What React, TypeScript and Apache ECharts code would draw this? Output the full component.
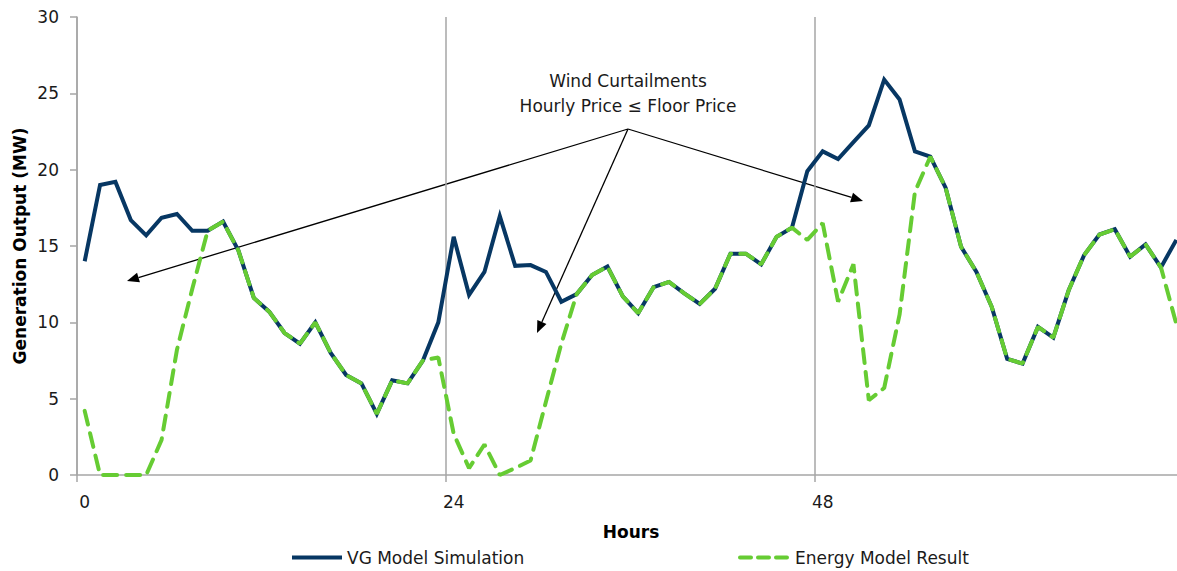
import React, { useEffect, useRef } from "react";
import * as echarts from "echarts";

const hours: string[] = Array.from({ length: 72 }, (_, i) => String(i));

const vgSimulation: number[] = [
  14.0, 19.0, 19.2, 16.7, 15.7, 16.85, 17.1, 16.0, 16.0, 16.6,
  14.7, 11.6, 10.7, 9.3, 8.6, 10.0, 8.0, 6.55, 6.0, 4.0,
  6.2, 6.0, 7.5, 10.0, 15.6, 11.8, 13.3, 16.95, 13.7, 13.75,
  13.3, 11.35, 11.85, 13.1, 13.65, 11.7, 10.6, 12.3, 12.65, 11.9,
  11.2, 12.2, 14.5, 14.5, 13.8, 15.6, 16.2, 19.9, 21.2, 20.7,
  21.8, 22.9, 25.9, 24.6, 21.2, 20.85, 18.8, 14.95, 13.3, 11.0,
  7.6, 7.3, 9.7, 9.0, 12.1, 14.4, 15.75, 16.1, 14.3, 15.1,
  13.6, 15.4,
];

const energyModel: number[] = [
  4.2, 0, 0, 0, 0, 2.3, 8.2, 12.2, 16.0, 16.6,
  14.7, 11.6, 10.7, 9.3, 8.6, 10.0, 8.0, 6.55, 6.0, 4.0,
  6.2, 6.0, 7.5, 7.7, 2.7, 0.45, 2.0, 0, 0.45, 0.95,
  4.8, 8.6, 11.85, 13.1, 13.65, 11.7, 10.6, 12.3, 12.65, 11.9,
  11.2, 12.2, 14.5, 14.5, 13.8, 15.6, 16.2, 15.4, 16.5, 11.35,
  13.8, 4.9, 5.7, 10.5, 18.55, 20.85, 18.8, 14.95, 13.3, 11.0,
  7.6, 7.3, 9.7, 9.0, 12.1, 14.4, 15.75, 16.1, 14.3, 15.1,
  13.6, 9.9,
];

const seriesNames = ["VG Model Simulation", "Energy Model Result"];
const annotationLines = ["Wind Curtailments", "Hourly Price \u2264 Floor Price"];

const FONT = "'DejaVu Sans', Verdana, sans-serif";
const AXIS_GRAY = "#a6a6a6";
const BLUE = "#073763";
const GREEN = "#66cc33";

// annotation arrows (pixel geometry of the callout)
const apex = [628, 129];
const arrowTips: number[][] = [
  [127, 281],
  [537, 333],
  [863, 201],
];

function arrowGraphics() {
  const els: any[] = [];
  for (const [tx, ty] of arrowTips) {
    const dx = tx - apex[0];
    const dy = ty - apex[1];
    const len = Math.sqrt(dx * dx + dy * dy);
    const ux = dx / len;
    const uy = dy / len;
    const headLen = 12;
    const headHalf = 5;
    const bx = tx - ux * headLen;
    const by = ty - uy * headLen;
    els.push({
      type: "line",
      shape: { x1: apex[0], y1: apex[1], x2: bx, y2: by },
      style: { stroke: "#000", lineWidth: 1.3 },
      silent: true,
    });
    els.push({
      type: "polygon",
      shape: {
        points: [
          [tx, ty],
          [bx - uy * headHalf, by + ux * headHalf],
          [bx + uy * headHalf, by - ux * headHalf],
        ],
      },
      style: { fill: "#000" },
      silent: true,
    });
  }
  return els;
}

const legendCommon = {
  top: 549,
  padding: 0,
  itemWidth: 50,
  itemHeight: 16,
  itemGap: 6,
  itemStyle: { opacity: 0 },
  textStyle: { fontFamily: FONT, fontSize: 17, color: "#1a1a1a" },
};

export default function App() {
  const ref = useRef<HTMLDivElement>(null);

  useEffect(() => {
    if (!ref.current) return;
    const chart = echarts.init(ref.current, undefined, { renderer: "svg" });
    chart.setOption({
      animation: false,
      backgroundColor: "#ffffff",
      textStyle: { fontFamily: FONT },
      grid: { left: 77, top: 17, bottom: 96, right: 0, containLabel: false },
      legend: [
        {
          ...legendCommon,
          data: [seriesNames[0]],
          left: 290,
          lineStyle: { width: 4, color: BLUE },
        },
        {
          ...legendCommon,
          data: [seriesNames[1]],
          left: 738,
          lineStyle: { width: 4, color: GREEN, type: [11, 7], cap: "round" },
        },
      ],
      xAxis: {
        type: "category",
        data: hours,
        boundaryGap: true,
        axisLine: { show: true, lineStyle: { color: AXIS_GRAY, width: 1.5 } },
        axisTick: { show: true, interval: 23, length: 7, lineStyle: { color: AXIS_GRAY, width: 1.5 } },
        axisLabel: {
          interval: 23,
          margin: 18,
          fontSize: 17,
          color: "#1a1a1a",
          fontFamily: FONT,
        },
        splitLine: { show: true, interval: 23, lineStyle: { color: AXIS_GRAY, width: 1.5 } },
      },
      yAxis: {
        type: "value",
        min: 0,
        max: 30,
        interval: 5,
        axisLine: { show: true, lineStyle: { color: AXIS_GRAY, width: 1.5 } },
        axisTick: { show: true, length: 7, lineStyle: { color: AXIS_GRAY, width: 1.5 } },
        axisLabel: { margin: 18, fontSize: 17, color: "#1a1a1a", fontFamily: FONT },
        splitLine: { show: false },
      },
      series: [
        {
          name: seriesNames[0],
          type: "line",
          data: vgSimulation,
          symbol: "none",
          z: 2,
          lineStyle: { color: BLUE, width: 4, join: "miter" },
          itemStyle: { color: BLUE },
        },
        {
          name: seriesNames[1],
          type: "line",
          data: energyModel,
          symbol: "none",
          z: 3,
          lineStyle: { color: GREEN, width: 4, type: [14, 9], cap: "round" },
          itemStyle: { color: GREEN },
        },
      ],
      graphic: [
        {
          type: "text",
          x: 20,
          y: 246,
          rotation: Math.PI / 2,
          style: {
            text: "Generation Output (MW)",
            fontFamily: FONT,
            fontSize: 17,
            fontWeight: "bold",
            fill: "#000",
            align: "center",
            verticalAlign: "middle",
          },
        },
        {
          type: "text",
          x: 631,
          y: 532,
          style: {
            text: "Hours",
            fontFamily: FONT,
            fontSize: 17,
            fontWeight: "bold",
            fill: "#000",
            align: "center",
            verticalAlign: "middle",
          },
        },
        {
          type: "text",
          x: 628,
          y: 81,
          style: {
            text: annotationLines[0],
            fontFamily: FONT,
            fontSize: 17,
            fill: "#1a1a1a",
            align: "center",
            verticalAlign: "middle",
          },
        },
        {
          type: "text",
          x: 628,
          y: 106,
          style: {
            text: annotationLines[1],
            fontFamily: FONT,
            fontSize: 17,
            fill: "#1a1a1a",
            align: "center",
            verticalAlign: "middle",
          },
        },
        ...arrowGraphics(),
      ],
    });
    return () => chart.dispose();
  }, []);

  return (
    <div
      style={{
        position: "fixed",
        left: 0,
        top: 0,
        width: 1177,
        height: 571,
        overflow: "hidden",
        background: "#fff",
      }}
    >
      <div ref={ref} style={{ width: 1184, height: 571 }} />
    </div>
  );
}
